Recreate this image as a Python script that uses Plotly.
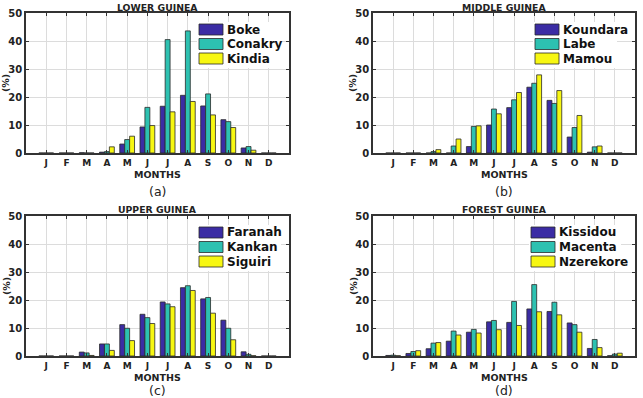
import plotly.graph_objects as go

months = ["J", "F", "M", "A", "M", "J", "J", "A", "S", "O", "N", "D"]
month_pos = list(range(1, 13))

# Lower Guinea
lower_names = ["Boke", "Conakry", "Kindia"]
boke = [0, 0, 0.1, 0.3, 3.2, 9.3, 16.7, 20.6, 16.8, 11.9, 1.8, 0]
conakry = [0, 0, 0, 0.5, 4.8, 16.3, 40.5, 43.6, 21.1, 11.2, 2.3, 0]
kindia = [0, 0, 0, 2.2, 6.0, 9.8, 14.7, 18.4, 13.6, 9.1, 1.0, 0]

# Middle Guinea
middle_names = ["Koundara", "Labe", "Mamou"]
koundara = [0, 0, 0, 0, 2.3, 10.0, 16.2, 23.5, 18.8, 5.7, 0.3, 0]
labe = [0, 0, 0.5, 2.5, 9.5, 15.7, 19.0, 24.9, 17.7, 9.1, 2.2, 0]
mamou = [0, 0, 1.2, 5.0, 9.7, 14.0, 21.6, 27.9, 22.3, 13.4, 2.5, 0]

# Upper Guinea
upper_names = ["Faranah", "Kankan", "Siguiri"]
faranah = [0, 0, 1.4, 4.3, 11.2, 14.9, 19.3, 24.4, 20.4, 12.8, 1.5, 0]
kankan = [0, 0, 1.1, 4.3, 9.9, 13.7, 18.6, 25.1, 20.9, 9.9, 0.6, 0]
siguiri = [0, 0, 0.2, 2.0, 5.5, 11.6, 17.6, 23.4, 15.3, 5.8, 0.1, 0]

# Forest Guinea
forest_names = ["Kissidou", "Macenta", "Nzerekore"]
kissidou = [0.2, 0.9, 2.6, 5.3, 8.5, 12.2, 12.0, 16.8, 15.9, 11.8, 2.7, 0.1]
macenta = [0.3, 1.6, 4.6, 8.9, 9.5, 12.7, 19.5, 25.5, 19.2, 11.2, 5.9, 0.7]
nzerekore = [0.1, 1.9, 4.8, 7.5, 8.2, 9.4, 10.9, 15.8, 14.7, 8.5, 3.0, 1.0]

panel_titles = ["LOWER GUINEA", "MIDDLE GUINEA", "UPPER GUINEA", "FOREST GUINEA"]
panel_letters = ["(a)", "(b)", "(c)", "(d)"]

colors = ["#3b2ca4", "#2dc1b1", "#f7f712"]
EDGE = "#2a2a2a"
W, H = 643, 398

# pixel layout of plot areas (left, right, top, bottom) and legend swatch offset from right edge
boxes = [(26, 289, 13, 153), (373, 635, 13, 153), (26, 289, 216, 356), (373, 635, 216, 356)]
legend_off = [90, 100, 90, 104]
letter_off = [38, 38, 34, 34]

panels = [
    (lower_names, [boke, conakry, kindia]),
    (middle_names, [koundara, labe, mamou]),
    (upper_names, [faranah, kankan, siguiri]),
    (forest_names, [kissidou, macenta, nzerekore]),
]

FONT_B = "DejaVu Sans, Arial"
TXT = "#222"

fig = go.Figure()
layout = dict(
    width=W, height=H, margin=dict(l=0, r=0, t=0, b=0, autoexpand=False),
    paper_bgcolor="white", plot_bgcolor="white",
    barmode="group", bargap=0.27, bargroupgap=0.0,
    showlegend=False,
    font=dict(family="DejaVu Sans", color=TXT),
    annotations=[], shapes=[],
)


def px(x):
    return x / W


def py(y):
    return 1 - y / H


for i, ((names, series), box) in enumerate(zip(panels, boxes)):
    l, r, t, b = box
    n = i + 1
    xa = f"x{n}" if n > 1 else "x"
    ya = f"y{n}" if n > 1 else "y"
    for name, vals, c in zip(names, series, colors):
        fig.add_trace(go.Bar(
            x=month_pos, y=vals, name=name, xaxis=xa, yaxis=ya,
            marker=dict(color=c, line=dict(color=EDGE, width=0.8)),
        ))
    xkey = "xaxis" if n == 1 else f"xaxis{n}"
    ykey = "yaxis" if n == 1 else f"yaxis{n}"
    common = dict(
        showgrid=True, gridcolor="#dcdcdc", gridwidth=1,
        showline=True, linecolor="#333", linewidth=1.5, mirror="ticks",
        ticks="inside", ticklen=3, tickcolor="#333", zeroline=False,
        fixedrange=True,
    )
    layout[xkey] = dict(
        domain=[px(l), px(r)], anchor=ya, range=[0, 13],
        tickvals=month_pos, ticktext=months, ticklabelstandoff=0,
        tickfont=dict(family=FONT_B, size=9, color=TXT, weight="bold"),
        **common,
    )
    layout[ykey] = dict(
        domain=[py(b), py(t)], anchor=xa, range=[0, 50],
        tickvals=[0, 10, 20, 30, 40, 50],
        tickfont=dict(family=FONT_B, size=10, color=TXT, weight="bold"),
        **common,
    )
    cx = (l + r) / 2
    layout["annotations"] += [
        dict(text=panel_titles[i], x=px(cx), y=py(t - 6), xref="paper", yref="paper",
             xanchor="center", yanchor="middle", showarrow=False,
             font=dict(family=FONT_B, size=9.3, color=TXT, weight="bold")),
        dict(text="MONTHS", x=px(cx), y=py(b + 21), xref="paper", yref="paper",
             xanchor="center", yanchor="middle", showarrow=False,
             font=dict(family=FONT_B, size=9.5, color=TXT, weight="bold")),
        dict(text=panel_letters[i], x=px(cx), y=py(b + letter_off[i]),
             xref="paper", yref="paper", xanchor="center", yanchor="middle",
             showarrow=False, font=dict(family="DejaVu Sans", size=12.5, color=TXT)),
        dict(text="(%)", x=px(l - 20), y=py((t + b) / 2), xref="paper", yref="paper",
             xanchor="center", yanchor="middle", showarrow=False, textangle=-90,
             font=dict(family=FONT_B, size=9.5, color=TXT, weight="bold")),
    ]
    # legend (keys + names)
    sx0 = r - legend_off[i]
    sx1 = sx0 + 24
    layout["shapes"].append(dict(
        type="rect", xref="paper", yref="paper",
        x0=px(sx0 - 2), x1=px(sx0 + 82 if i != 3 else sx0 + 90),
        y0=py(t + 9), y1=py(t + 55), fillcolor="white", line=dict(width=0), layer="above",
    ))
    for k, (name, c) in enumerate(zip(names, colors)):
        y0 = t + 11 + k * 14.5
        layout["shapes"].append(dict(
            type="rect", xref="paper", yref="paper",
            x0=px(sx0), x1=px(sx1), y0=py(y0 + 11), y1=py(y0),
            fillcolor=c, line=dict(color=EDGE, width=0.8), layer="above",
        ))
        layout["annotations"].append(dict(
            text=name, x=px(sx1 + 2), y=py(y0 + 5.5), xref="paper", yref="paper",
            xanchor="left", yanchor="middle", showarrow=False,
            font=dict(family=FONT_B, size=12, color="#111", weight="bold"),
        ))

fig.update_layout(**layout)
fig.write_html("out.html")
